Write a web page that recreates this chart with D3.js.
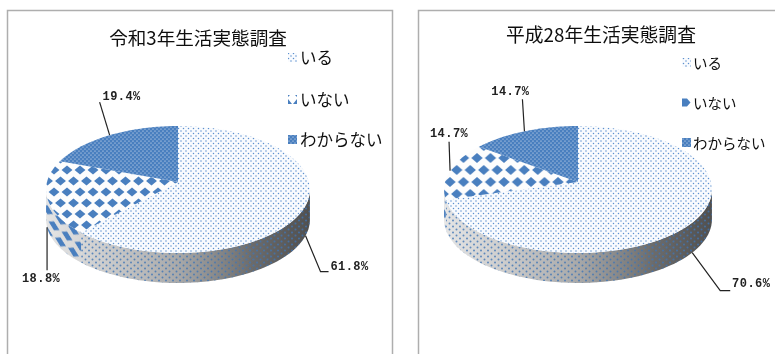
<!DOCTYPE html>
<html><head><meta charset="utf-8">
<script src="https://cdn.jsdelivr.net/npm/d3@7/dist/d3.min.js"></script>
<style>html,body{margin:0;padding:0;background:#fff;overflow:hidden}svg{display:block}</style>
</head><body>
<svg id="c" width="775" height="354"></svg>
<script>
// ---- data ----
const categories = ["いる", "いない", "わからない"];
const titles = ["令和3年生活実態調査", "平成28年生活実態調査"];
const valuesReiwa3 = [61.8, 18.8, 19.4];
const valuesHeisei28 = [70.6, 14.7, 14.7];

// ---- layout ----
const panels = [
  {values: valuesReiwa3, title: titles[0], frame: [7, 10, 385, 360], cx: 178, cy: 182, R: 131,
   titleX: 198, titleY: 36, titleSize: 18.6, titleSpacing: 0,
   legendX: 288, legendTextX: 300, legendY: [57, 99, 139], legendSize: 16.5,
   diamond: {w: 13, h: 22, ox: 67, oy: 170},
   labels: [{dx: 15, dy: 36, run: 8, tx: 44, ty: 31, bottom: true},
            {dx: 0, dy: 43, run: 0, tx: -6, ty: 52, bottom: true},
            {dx: -10, dy: -33, run: 0, tx: 12, ty: -38}]},
  {values: valuesHeisei28, title: titles[1], frame: [418, 10, 400, 360], cx: 578, cy: 182, R: 133,
   titleX: 601, titleY: 33, titleSize: 18.8, titleSpacing: 0,
   legendX: 682, legendTextX: 693, legendY: [62, 102, 142], legendSize: 14.5,
   diamond: {w: 13.5, h: 24, ox: 450, oy: 182},
   labels: [{dx: 28, dy: 38, run: 10, tx: 59, ty: 31, bottom: true},
            {dx: -1, dy: -29, run: 0, tx: -1, ty: -37},
            {dx: -2, dy: -32, run: 0, tx: -14, ty: -39}]}
];
const persp = 0.118, squash = 62.6, depth = 30, blue = "#4a7fbf";

const svg = d3.select("#c");
const defs = svg.append("defs");
defs.append("filter").attr("id", "soft").attr("x", "-5%").attr("y", "-5%").attr("width", "110%").attr("height", "110%")
  .append("feGaussianBlur").attr("stdDeviation", 0.45);
defs.append("filter").attr("id", "softText").append("feGaussianBlur").attr("stdDeviation", 0.3);

function tile(id, w, h, bg, dots, tf) {
  const p = defs.append("pattern").attr("id", id).attr("patternUnits", "userSpaceOnUse")
    .attr("width", w).attr("height", h);
  if (tf) p.attr("patternTransform", tf);
  if (bg) p.append("rect").attr("width", w).attr("height", h).attr("fill", bg);
  dots.forEach(d => p.append("circle").attr("cx", d[0]).attr("cy", d[1]).attr("r", d[2]).attr("fill", d[3]).attr("fill-opacity", d[4] ?? 1));
  return p;
}
// top faces
tile("pDots", 5, 5, "#f9fbfe", [[1, 1, .72, "#5b90cf"], [3.5, 3.5, .72, "#5b90cf"]]);
tile("pBlue", 4, 4, blue, [[1, 1, .62, "#ffffff", .85], [3, 3, .62, "#ffffff", .85]]);
// wall faces
tile("wDots", 7, 6, null, [[1.5, 1.5, 1, "#3f74b4", .8], [5, 4.5, 1, "#3f74b4", .8]]);
tile("wBlue", 5, 5, blue, []);

function diamondTile(id, d, tf) {
  return defs.append("pattern").attr("id", id).attr("patternUnits", "userSpaceOnUse")
    .attr("width", d.w).attr("height", d.h)
    .attr("patternTransform", tf || `translate(${d.ox},${d.oy})`);
}
function diamondShapes(p, d, bg) {
  if (bg) p.append("rect").attr("width", d.w).attr("height", d.h).attr("fill", bg);
  const hx = d.w * 0.42, hy = d.h * 0.21;
  [[0, 0], [d.w, 0], [0, d.h], [d.w, d.h], [d.w / 2, d.h / 2]].forEach(c =>
    p.append("path").attr("fill", blue)
      .attr("d", `M${c[0] - hx},${c[1]}L${c[0]},${c[1] - hy}L${c[0] + hx},${c[1]}L${c[0]},${c[1] + hy}Z`));
}

const pieGen = d3.pie().sort(null).value(d => d);

panels.forEach((P, pi) => {
  const g = svg.append("g");
  const proj = (t, dy = 0) => {
    const k = 1 + persp * Math.cos(t);
    return [P.cx + P.R * Math.sin(t) / k, P.cy - squash * Math.cos(t) / k + dy];
  };
  const line = d3.line();
  const arcPts = (a, b, dy) => d3.range(0, 61).map(i => proj(a + (b - a) * i / 60, dy));

  g.append("rect").attr("x", P.frame[0] + .5).attr("y", P.frame[1] + .5)
    .attr("width", P.frame[2]).attr("height", P.frame[3])
    .attr("fill", "#fff").attr("stroke", "#aeaeae").attr("stroke-width", 1.5);

  const dTop = diamondTile("pDia" + pi, P.diamond);
  diamondShapes(dTop, P.diamond, "#fdfdfd");
  const dWall = diamondTile("wDia" + pi, P.diamond,
    `translate(${P.diamond.ox},${P.diamond.oy}) skewY(38)`);
  diamondShapes(dWall, P.diamond, null);

  const grad = defs.append("linearGradient").attr("id", "wall" + pi).attr("gradientUnits", "userSpaceOnUse")
    .attr("x1", P.cx - P.R).attr("x2", P.cx + P.R).attr("y1", 0).attr("y2", 0);
  [[0, "#e4e4e4"], [.2, "#cfcfcf"], [.5, "#a9a9a9"], [.78, "#6c6c6c"], [1, "#505050"]].forEach(s =>
    grad.append("stop").attr("offset", s[0]).attr("stop-color", s[1]));

  const topFill = ["url(#pDots)", `url(#pDia${pi})`, "url(#pBlue)"];
  const wallFill = ["url(#wDots)", `url(#wDia${pi})`, "url(#wBlue)"];
  const arcs = pieGen(P.values);
  const visStart = Math.acos(-persp), visEnd = 2 * Math.PI - visStart;

  const pie = g.append("g").attr("filter", "url(#soft)");
  // side wall
  arcs.forEach((a, i) => {
    const s = Math.max(a.startAngle, visStart), e = Math.min(a.endAngle, visEnd);
    if (e <= s) return;
    const pts = arcPts(s, e, 0).concat(arcPts(s, e, depth).reverse());
    const d = line(pts) + "Z";
    pie.append("path").attr("d", d).attr("fill", `url(#wall${pi})`);
    pie.append("path").attr("d", d).attr("fill", wallFill[i]);
  });
  // top faces
  arcs.forEach((a, i) => {
    const pts = [[P.cx, P.cy]].concat(arcPts(a.startAngle, a.endAngle, 0));
    pie.append("path").attr("d", line(pts) + "Z").attr("fill", topFill[i]);
  });

  // leaders and value labels
  const fmt = d3.format(".1f");
  arcs.forEach((a, i) => {
    const L = P.labels[i], mid = (a.startAngle + a.endAngle) / 2;
    const o = proj(mid, L.bottom ? depth : 0);
    const pts = [o, [o[0] + L.dx, o[1] + L.dy]];
    if (L.run) pts.push([o[0] + L.dx + L.run, o[1] + L.dy]);
    g.append("path").attr("d", line(pts)).attr("fill", "none").attr("stroke", "#222").attr("stroke-width", 1.2);
    g.append("text").attr("x", o[0] + L.tx).attr("y", o[1] + L.ty)
      .attr("text-anchor", "middle")
      .attr("dominant-baseline", "central")
      .attr("font-family", "'Liberation Mono', monospace").attr("font-size", 12).attr("font-weight", "bold").attr("letter-spacing", .45)
      .attr("fill", "#222").attr("filter", "url(#softText)")
      .text(fmt(P.values[i]) + "%");
  });

  // title
  g.append("text").attr("x", P.titleX).attr("y", P.titleY).attr("text-anchor", "middle")
    .attr("dominant-baseline", "central").attr("font-family", "'Noto Sans CJK JP'")
    .attr("font-size", P.titleSize).attr("letter-spacing", P.titleSpacing).attr("fill", "#111").attr("filter", "url(#softText)")
    .text(P.title);

  // legend
  categories.forEach((c, i) => {
    const y = P.legendY[i];
    const swId = `sw${pi}${i}`;
    if (i === 1) {
      const sw = defs.append("pattern").attr("id", swId).attr("patternUnits", "userSpaceOnUse")
        .attr("width", 9).attr("height", 9).attr("x", P.legendX).attr("y", y - 4);
      sw.append("rect").attr("width", 9).attr("height", 9).attr("fill", "#fff");
      const d = pi === 0 ? "M0,4L0,9L4,9ZM9,4L9,9L5,9ZM0,0L2,0L0,2ZM9,0L7,0L9,2Z" : "M0,0.5L5,0.5L8.5,4.5L5,8.5L0,8.5Z";
      sw.append("path").attr("d", d).attr("fill", blue);
    }
    g.append("rect").attr("x", P.legendX).attr("y", y - 4).attr("width", 9).attr("height", 9)
      .attr("filter", "url(#softText)")
      .attr("fill", i === 1 ? `url(#${swId})` : i === 0 ? "url(#pDots)" : "url(#pBlue)");
    g.append("text").attr("x", P.legendTextX).attr("y", y).attr("dominant-baseline", "central")
      .attr("font-family", "'Noto Sans CJK JP'").attr("font-size", P.legendSize)
      .attr("fill", "#111").attr("filter", "url(#softText)").text(c);
  });
});
</script>
</body></html>
